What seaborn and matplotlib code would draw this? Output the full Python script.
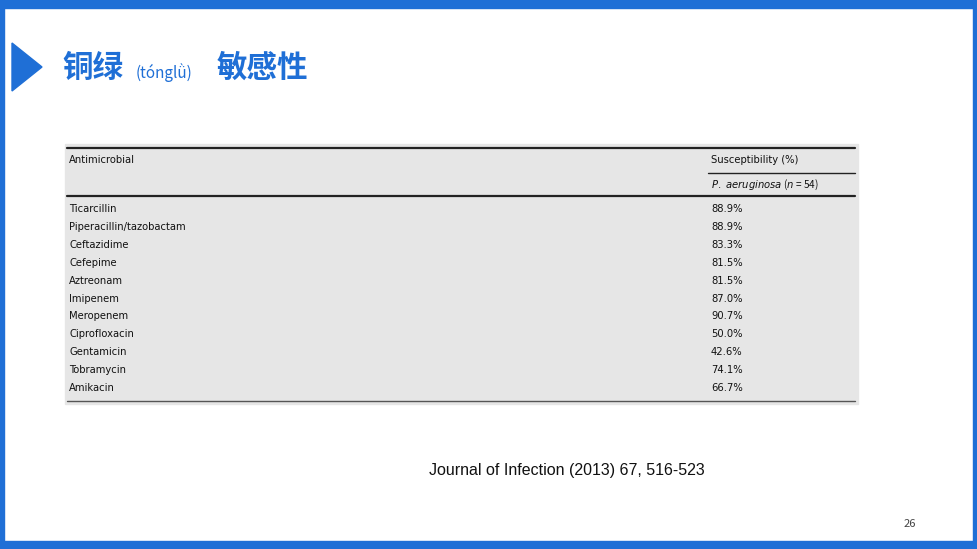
import matplotlib
matplotlib.use("Agg")
import matplotlib.pyplot as plt
import seaborn as sns
from matplotlib.patches import Rectangle, Polygon

sns.set_theme(style="white")
plt.rcParams['font.family'] = ['Noto Sans CJK SC', 'DejaVu Sans']

drugs = ["Ticarcillin", "Piperacillin/tazobactam", "Ceftazidime", "Cefepime",
         "Aztreonam", "Imipenem", "Meropenem", "Ciprofloxacin", "Gentamicin",
         "Tobramycin", "Amikacin"]
suscept = [88.9, 88.9, 83.3, 81.5, 81.5, 87.0, 90.7, 50.0, 42.6, 74.1, 66.7]

BLUE = "#1f6fd6"
fig = plt.figure(figsize=(9.77, 5.49), dpi=100)
ax = fig.add_axes([0, 0, 1, 1])
ax.set_xlim(0, 977); ax.set_ylim(549, 0); ax.axis("off")

# slide frame
ax.add_patch(Rectangle((0, 0), 977, 8, color=BLUE))
ax.add_patch(Rectangle((0, 541), 977, 8, color=BLUE))
ax.add_patch(Rectangle((0, 0), 4, 549, color=BLUE))
ax.add_patch(Rectangle((973, 0), 4, 549, color=BLUE))
ax.add_patch(Polygon([(12, 43), (42, 67), (12, 91)], color=BLUE))

ax.text(62, 68, "铜绿", fontsize=22, fontweight="bold", color=BLUE, va="center")
ax.text(136, 73, "(tónglǜ)", fontsize=11, color=BLUE, va="center",
        family=['Noto Sans CJK SC', 'DejaVu Sans'])
ax.text(217, 68, "敏感性", fontsize=22, fontweight="bold", color=BLUE, va="center")

# table
ax.add_patch(Rectangle((65, 144), 793, 260, color="#e6e6e6"))
ax.plot([67, 855], [148, 148], color="#222", lw=1.6)
ax.plot([708, 855], [172.5, 172.5], color="#222", lw=1.0)
ax.plot([67, 855], [196, 196], color="#222", lw=1.6)
ax.plot([67, 855], [400.5, 400.5], color="#555", lw=1.0)
fs = 7.2
ax.text(69, 160, "Antimicrobial", fontsize=fs, va="center", color="#111", family="DejaVu Sans")
ax.text(711, 160, "Susceptibility (%)", fontsize=fs, va="center", color="#111", family="DejaVu Sans")
ax.text(711, 185, r"$\it{P.\ aeruginosa}$ ($\it{n}$ = 54)", fontsize=fs, va="center", color="#111")
for i, (d, v) in enumerate(zip(drugs, suscept)):
    y = 209 + i * 17.9
    ax.text(69, y, d, fontsize=fs, va="center", color="#111", family="DejaVu Sans")
    ax.text(711, y, f"{v:.1f}%", fontsize=fs, va="center", color="#111", family="DejaVu Sans")

ax.text(567, 470, "Journal of Infection (2013) 67, 516-523", fontsize=11.5,
        ha="center", va="center", color="#111", family="Liberation Sans")
ax.text(910, 524, "26", fontsize=8, ha="center", va="center", color="#444")

fig.savefig("out.png", dpi=100)
